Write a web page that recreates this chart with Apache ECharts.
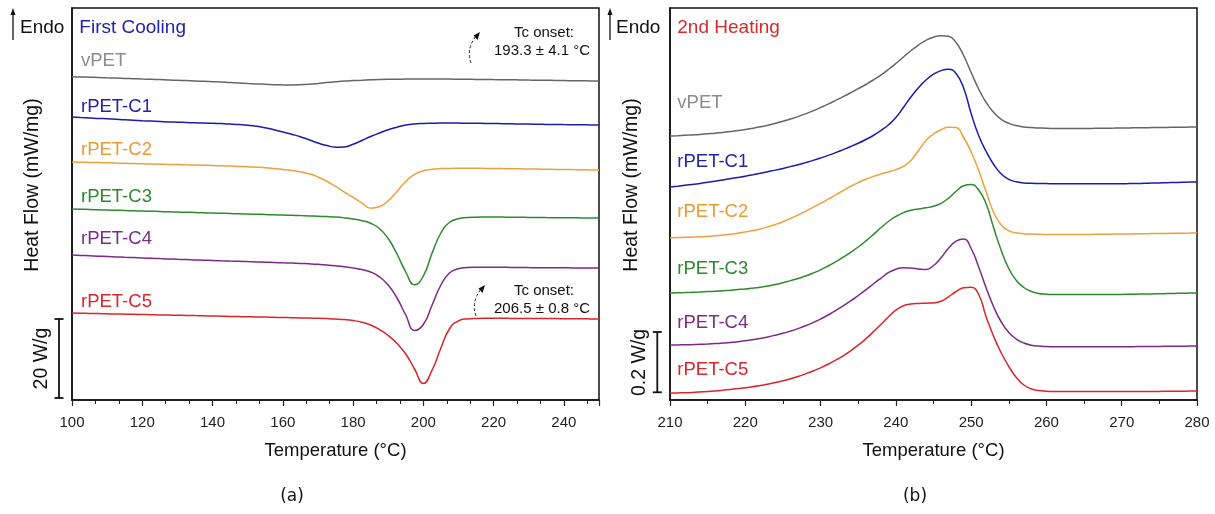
<!DOCTYPE html>
<html><head><meta charset="utf-8">
<script src="https://cdn.jsdelivr.net/npm/echarts@6/dist/echarts.min.js"></script>
<style>html,body{margin:0;padding:0;background:#fff}#c{width:1215px;height:514px}</style>
</head><body><div id="c"></div><script>
const FONT = '"Liberation Sans", Arial, sans-serif';
const coolingTickLabels = [100, 120, 140, 160, 180, 200, 220, 240];
const heatingTickLabels = [210, 220, 230, 240, 250, 260, 270, 280];
const sampleNames = ['vPET', 'rPET-C1', 'rPET-C2', 'rPET-C3', 'rPET-C4', 'rPET-C5'];
const lineColors = ['#666666', '#1c1ca8', '#eba23e', '#2d8a2d', '#7b2a88', '#d8262b'];
const labelColors = ['#8c8c8c', '#2323a8', '#e99a33', '#2d8a2d', '#7b2a88', '#d8262b'];

// ---- First cooling (panel a): temperature grid (°C) and stacked heat-flow offsets (W/g)
const coolT = [100, 102.5, 105, 107.5, 110, 112.5, 115, 117.5, 120, 122.5, 125, 127.5, 130, 132.5, 135, 137.5, 140, 142.5, 145, 147.5,
  150, 152.5, 155, 157.5, 160, 162.5, 165, 167.5, 170, 172.5, 175, 177.5, 180, 182.5, 185, 187.5, 190, 192.5, 195, 197.5,
  200, 202.5, 205, 207.5, 210, 212.5, 215, 217.5, 220, 222.5, 225, 227.5, 230, 232.5, 235, 237.5, 240, 242.5, 245, 247.5, 250];
const coolV_vPET = [80.83, 80.75, 80.70, 80.63, 80.55, 80.48, 80.40, 80.33, 80.25, 80.18, 80.10, 80.00, 79.93, 79.85, 79.75, 79.68, 79.58, 79.48, 79.35, 79.25,
  79.13, 79.03, 78.93, 78.83, 78.78, 78.75, 78.80, 78.93, 79.13, 79.35, 79.55, 79.73, 79.85, 79.95, 80.05, 80.13, 80.18, 80.20, 80.23, 80.25,
  80.25, 80.25, 80.23, 80.23, 80.20, 80.18, 80.15, 80.13, 80.10, 80.08, 80.05, 80.03, 79.98, 79.95, 79.93, 79.90, 79.85, 79.83, 79.80, 79.78, 79.75];
const coolV_C1 = [70.75, 70.63, 70.53, 70.40, 70.30, 70.18, 70.05, 69.95, 69.83, 69.73, 69.63, 69.53, 69.45, 69.38, 69.30, 69.25, 69.18, 69.10, 69.00, 68.85,
  68.68, 68.43, 68.05, 67.58, 67.00, 66.43, 65.83, 65.05, 64.25, 63.60, 63.20, 63.28, 63.93, 64.88, 65.88, 66.75, 67.55, 68.20, 68.73, 69.03,
  69.15, 69.20, 69.23, 69.23, 69.23, 69.20, 69.18, 69.15, 69.13, 69.08, 69.05, 69.00, 68.98, 68.93, 68.90, 68.88, 68.85, 68.83, 68.80, 68.78, 68.75];
const coolV_C2 = [59.50, 59.45, 59.40, 59.35, 59.30, 59.23, 59.18, 59.10, 59.05, 59.00, 58.95, 58.90, 58.85, 58.80, 58.75, 58.68, 58.63, 58.55, 58.48, 58.40,
  58.33, 58.20, 58.05, 57.85, 57.63, 57.38, 57.05, 56.55, 55.75, 54.68, 53.38, 52.00, 50.63, 49.30, 47.95, 48.30, 49.80, 52.13, 54.63, 56.38,
  57.30, 57.70, 57.85, 57.90, 57.93, 57.93, 57.93, 57.90, 57.88, 57.85, 57.83, 57.80, 57.75, 57.73, 57.70, 57.65, 57.63, 57.60, 57.58, 57.53, 57.50];
const coolV_C3 = [47.75, 47.68, 47.63, 47.55, 47.50, 47.43, 47.38, 47.30, 47.25, 47.18, 47.13, 47.05, 47.00, 46.93, 46.88, 46.80, 46.75, 46.68, 46.63, 46.55,
  46.50, 46.43, 46.38, 46.30, 46.25, 46.18, 46.10, 46.03, 45.95, 45.85, 45.73, 45.53, 45.25, 44.83, 44.18, 42.88, 40.38, 36.50, 32.00, 28.80,
  31.00, 36.75, 41.75, 44.43, 45.30, 45.60, 45.70, 45.73, 45.75, 45.73, 45.70, 45.68, 45.65, 45.63, 45.60, 45.58, 45.55, 45.55, 45.53, 45.50, 45.50];
const coolV_C4 = [36.25, 36.15, 36.05, 35.95, 35.88, 35.78, 35.68, 35.60, 35.50, 35.43, 35.35, 35.28, 35.18, 35.10, 35.03, 34.95, 34.88, 34.80, 34.73, 34.68,
  34.60, 34.53, 34.45, 34.38, 34.30, 34.23, 34.15, 34.05, 33.93, 33.78, 33.58, 33.33, 33.00, 32.60, 32.00, 30.80, 28.75, 25.50, 21.25, 17.38,
  18.88, 23.75, 28.75, 31.80, 32.83, 33.10, 33.18, 33.20, 33.20, 33.18, 33.15, 33.13, 33.10, 33.08, 33.08, 33.05, 33.05, 33.03, 33.03, 33.00, 33.00];
const coolV_C5 = [21.75, 21.70, 21.65, 21.60, 21.55, 21.50, 21.45, 21.43, 21.38, 21.33, 21.28, 21.23, 21.18, 21.15, 21.10, 21.05, 21.00, 20.95, 20.90, 20.85,
  20.80, 20.78, 20.73, 20.68, 20.63, 20.58, 20.53, 20.48, 20.43, 20.35, 20.25, 20.10, 19.85, 19.43, 18.75, 17.60, 16.13, 14.13, 11.50, 7.75,
  4.13, 7.50, 13.00, 17.88, 19.80, 20.28, 20.40, 20.43, 20.43, 20.43, 20.40, 20.40, 20.38, 20.38, 20.35, 20.35, 20.33, 20.30, 20.30, 20.28, 20.25];

// ---- Second heating (panel b): temperature grid (°C) and stacked heat-flow offsets (W/g)
const heatT = [210, 211, 212, 213, 214, 215, 216, 217, 218, 219, 220, 221, 222, 223, 224, 225, 226, 227, 228, 229,
  230, 231, 232, 233, 234, 235, 236, 237, 238, 239, 240, 241, 242, 243, 244, 245, 246, 247, 248, 249,
  250, 251, 252, 253, 254, 255, 256, 257, 258, 259, 260, 261, 262, 263, 264, 265, 266, 267, 268, 269,
  270, 271, 272, 273, 274, 275, 276, 277, 278, 279, 280];
const heatV_vPET = [0.880, 0.881, 0.8823, 0.8837, 0.8853, 0.8873, 0.8893, 0.8917, 0.8947, 0.898, 0.9017, 0.906, 0.9107, 0.916, 0.9223, 0.9293, 0.9367, 0.9447, 0.9537, 0.9637,
  0.9747, 0.9863, 0.9987, 1.0113, 1.0243, 1.0377, 1.0517, 1.0667, 1.0833, 1.1017, 1.1217, 1.1433, 1.1643, 1.1833, 1.199, 1.2093, 1.2143, 1.2123, 1.1917, 1.1483,
  1.0917, 1.0367, 0.9917, 0.9583, 0.9357, 0.9223, 0.9147, 0.9103, 0.908, 0.9067, 0.9057, 0.9053, 0.905, 0.905, 0.905, 0.905, 0.9053, 0.9057, 0.906, 0.9063,
  0.9067, 0.907, 0.9073, 0.9077, 0.908, 0.9083, 0.9087, 0.909, 0.9093, 0.9097, 0.910];
const heatV_C1 = [0.710, 0.7127, 0.7157, 0.7187, 0.722, 0.7257, 0.7293, 0.7333, 0.7373, 0.7417, 0.746, 0.7507, 0.7557, 0.761, 0.7663, 0.772, 0.778, 0.7843, 0.7913, 0.7987,
  0.8067, 0.8153, 0.8247, 0.8347, 0.845, 0.856, 0.8683, 0.8817, 0.8983, 0.9167, 0.9417, 0.975, 1.010, 1.0407, 1.0667, 1.086, 1.098, 1.1027, 1.0883, 1.040,
  0.955, 0.8817, 0.8283, 0.785, 0.7533, 0.7357, 0.7273, 0.7237, 0.7223, 0.7217, 0.7213, 0.721, 0.721, 0.721, 0.721, 0.721, 0.721, 0.721, 0.721, 0.721,
  0.721, 0.7213, 0.7217, 0.7223, 0.723, 0.7237, 0.7243, 0.725, 0.7257, 0.7263, 0.7267];
const heatV_C2 = [0.541, 0.5417, 0.5423, 0.5433, 0.5443, 0.5457, 0.5473, 0.5497, 0.5527, 0.556, 0.560, 0.5647, 0.5703, 0.577, 0.585, 0.5943, 0.605, 0.6167, 0.629, 0.642,
  0.6553, 0.6693, 0.6837, 0.698, 0.712, 0.7247, 0.7357, 0.745, 0.753, 0.7603, 0.768, 0.779, 0.7983, 0.8317, 0.865, 0.8867, 0.9007, 0.9093, 0.908, 0.875,
  0.8267, 0.765, 0.6933, 0.625, 0.5833, 0.564, 0.5573, 0.5543, 0.553, 0.5523, 0.552, 0.5517, 0.5517, 0.5517, 0.5517, 0.5517, 0.552, 0.5523, 0.5527, 0.553,
  0.5533, 0.5537, 0.554, 0.5543, 0.5547, 0.555, 0.5553, 0.5557, 0.556, 0.5563, 0.5567];
const heatV_C3 = [0.3567, 0.3573, 0.358, 0.359, 0.360, 0.3613, 0.3627, 0.3643, 0.366, 0.368, 0.370, 0.3727, 0.376, 0.380, 0.385, 0.391, 0.398, 0.405, 0.4133, 0.423,
  0.434, 0.4467, 0.4607, 0.476, 0.4923, 0.510, 0.5297, 0.5513, 0.574, 0.595, 0.6117, 0.6247, 0.6323, 0.637, 0.6407, 0.646, 0.6557, 0.6727, 0.696, 0.714,
  0.718, 0.700, 0.6533, 0.5733, 0.4983, 0.4383, 0.3983, 0.375, 0.3617, 0.355, 0.3527, 0.3517, 0.3513, 0.3513, 0.3513, 0.3513, 0.3513, 0.3513, 0.3513, 0.3517,
  0.352, 0.3523, 0.3527, 0.3533, 0.3537, 0.354, 0.3547, 0.3553, 0.3557, 0.3563, 0.3567];
const heatV_C4 = [0.1833, 0.1837, 0.184, 0.1847, 0.1857, 0.1867, 0.188, 0.1897, 0.1917, 0.1943, 0.1973, 0.201, 0.2053, 0.2103, 0.216, 0.2223, 0.2297, 0.238, 0.2473, 0.258,
  0.270, 0.2833, 0.2977, 0.3137, 0.3303, 0.3483, 0.367, 0.3867, 0.4057, 0.4243, 0.436, 0.4407, 0.440, 0.437, 0.4347, 0.4483, 0.4743, 0.5057, 0.5293, 0.5367,
  0.505, 0.4433, 0.3733, 0.310, 0.260, 0.225, 0.2033, 0.190, 0.1827, 0.1797, 0.1783, 0.1777, 0.1773, 0.1773, 0.1773, 0.1773, 0.1773, 0.1773, 0.1773, 0.1773,
  0.1773, 0.1777, 0.178, 0.1783, 0.1787, 0.1787, 0.179, 0.1793, 0.1793, 0.1797, 0.180];
const heatV_C5 = [0.0233, 0.0237, 0.0243, 0.0253, 0.0267, 0.0283, 0.0303, 0.0327, 0.0353, 0.038, 0.0407, 0.044, 0.048, 0.0527, 0.058, 0.064, 0.0707, 0.0783, 0.087, 0.0967,
  0.1073, 0.1193, 0.1327, 0.1473, 0.164, 0.1827, 0.2037, 0.227, 0.2517, 0.2767, 0.2993, 0.3143, 0.3203, 0.322, 0.3227, 0.3237, 0.329, 0.344, 0.3617, 0.374,
  0.3757, 0.3517, 0.2767, 0.2117, 0.1567, 0.1117, 0.075, 0.050, 0.0367, 0.0313, 0.0293, 0.0283, 0.028, 0.028, 0.028, 0.028, 0.028, 0.028, 0.028, 0.028,
  0.028, 0.028, 0.028, 0.0283, 0.0287, 0.0287, 0.029, 0.0293, 0.0293, 0.0297, 0.030];

const coolSeries = [coolV_vPET, coolV_C1, coolV_C2, coolV_C3, coolV_C4, coolV_C5];
const heatSeries = [heatV_vPET, heatV_C1, heatV_C2, heatV_C3, heatV_C4, heatV_C5];

const zip = (t, v) => t.map((x, i) => [x, v[i]]);
const series = [];
coolSeries.forEach((v, i) => series.push({
  name: sampleNames[i], type: 'line', xAxisIndex: 0, yAxisIndex: 0, data: zip(coolT, v),
  smooth: 0.5, showSymbol: false, lineStyle: { color: lineColors[i], width: 1.5 }, silent: true
}));
heatSeries.forEach((v, i) => series.push({
  name: sampleNames[i], type: 'line', xAxisIndex: 1, yAxisIndex: 1, data: zip(heatT, v),
  smooth: 0.5, showSymbol: false, lineStyle: { color: lineColors[i], width: 1.5 }, silent: true
}));

function xAxisDef(gridIndex, min, max, interval, minorSplit, labels) {
  return {
    type: 'value', gridIndex, min, max, interval,
    axisLine: { show: true, onZero: false, lineStyle: { color: '#111', width: 1.5 } },
    axisTick: { show: true, inside: false, length: 6, lineStyle: { color: '#222', width: 1.2 } },
    minorTick: { show: true, splitNumber: minorSplit, length: 4, lineStyle: { color: '#222', width: 1 } },
    splitLine: { show: false },
    axisLabel: { margin: 15, fontFamily: FONT, fontSize: 15, color: '#222', showMaxLabel: labels.includes(max),
      formatter: v => labels.includes(v) ? String(v) : '' },
    name: 'Temperature (°C)', nameLocation: 'middle', nameGap: 41,
    nameTextStyle: { fontFamily: FONT, fontSize: 18.5, color: '#111' }
  };
}
function yAxisDef(gridIndex, max) {
  return {
    type: 'value', gridIndex, min: 0, max,
    axisLine: { show: true, lineStyle: { color: '#111', width: 1.5 } },
    axisTick: { show: false }, axisLabel: { show: false }, splitLine: { show: false }
  };
}

const txt = (x, y, s, color, size, extra) => Object.assign({
  type: 'text', x, y, silent: true,
  style: Object.assign({ text: s, fill: color, font: size + 'px ' + FONT, align: 'left', verticalAlign: 'middle' }, extra || {})
});

const graphic = [];
// Endo arrows and panel titles
[[13, 20, 79.3, 'First Cooling', '#2323a8'], [610, 616, 677.3, '2nd Heating', '#d42a2a']].forEach(a => {
  graphic.push({ type: 'line', silent: true, shape: { x1: a[0], y1: 40, x2: a[0], y2: 13 }, style: { stroke: '#111', lineWidth: 1.3 } });
  graphic.push({ type: 'polygon', silent: true, shape: { points: [[a[0] - 2.5, 15], [a[0] + 2.5, 15], [a[0], 8]] }, style: { fill: '#111' } });
  graphic.push(txt(a[1], 28, 'Endo', '#111', 19));
  graphic.push(txt(a[2], 28, a[3], a[4], 19));
});
// sample labels
const coolLabelY = [61, 106.5, 150, 196.5, 239, 301.5];
const heatLabelY = [103.3, 161.7, 211.7, 269, 323, 369.7];
sampleNames.forEach((n, i) => {
  graphic.push(txt(81, coolLabelY[i], n, labelColors[i], 18.5));
  graphic.push(txt(677.3, heatLabelY[i], n, labelColors[i], 18.5));
});
// y-axis names
[[33, 185], [632, 185]].forEach(p => graphic.push({
  type: 'text', x: p[0], y: p[1], rotation: Math.PI / 2, silent: true,
  style: { text: 'Heat Flow (mW/mg)', fill: '#111', font: '19.5px ' + FONT, align: 'center', verticalAlign: 'middle' }
}));
// scale bars
[[59, 319, 398, 41.7, 358.5, '20 W/g'], [657.3, 332, 392.3, 640, 362.5, '0.2 W/g']].forEach(b => {
  graphic.push({ type: 'line', silent: true, shape: { x1: b[0], y1: b[1], x2: b[0], y2: b[2] }, style: { stroke: '#111', lineWidth: 1.8 } });
  graphic.push({ type: 'line', silent: true, shape: { x1: b[0] - 4.5, y1: b[1], x2: b[0] + 4.5, y2: b[1] }, style: { stroke: '#111', lineWidth: 1.8 } });
  graphic.push({ type: 'line', silent: true, shape: { x1: b[0] - 4.5, y1: b[2], x2: b[0] + 4.5, y2: b[2] }, style: { stroke: '#111', lineWidth: 1.8 } });
  graphic.push({ type: 'text', x: b[3], y: b[4], rotation: Math.PI / 2, silent: true,
    style: { text: b[5], fill: '#111', font: '19.5px ' + FONT, align: 'center', verticalAlign: 'middle' } });
});
// Tc onset annotations
[[33, 51, 63, 'Tc onset:', '193.3 ± 4.1 °C', 471], [291, 308.7, 316, 'Tc onset:', '206.5 ± 0.8 °C', 476]].forEach(a => {
  graphic.push(txt(544, a[0], a[3], '#111', 15, { align: 'center' }));
  graphic.push(txt(542, a[1], a[4], '#111', 15, { align: 'center' }));
  const x0 = a[5], y0 = a[2];
  graphic.push({ type: 'bezierCurve', silent: true,
    shape: { x1: x0, y1: y0, cpx1: x0 - 5, cpy1: y0 - 14, x2: x0 + 5, y2: y0 - 27 },
    style: { stroke: '#222', lineWidth: 1, lineDash: [3, 2], fill: null } });
  graphic.push({ type: 'polygon', silent: true,
    shape: { points: [[x0 + 9, y0 - 31], [x0 + 2.5, y0 - 27.5], [x0 + 6.5, y0 - 23]] }, style: { fill: '#111' } });
});
// panel letters
graphic.push({ type: 'text', x: 292, y: 497, silent: true, style: { text: '(a)', fill: '#111', font: '17px "DejaVu Sans", sans-serif', align: 'center', verticalAlign: 'middle' } });
graphic.push({ type: 'text', x: 915, y: 497, silent: true, style: { text: '(b)', fill: '#111', font: '17px "DejaVu Sans", sans-serif', align: 'center', verticalAlign: 'middle' } });

const chart = echarts.init(document.getElementById('c'), null, { renderer: 'canvas' });
chart.setOption({
  animation: false,
  backgroundColor: '#fff',
  grid: [
    { left: 72, right: 616, top: 8, bottom: 114, show: true, borderColor: '#111', borderWidth: 1.5, containLabel: false },
    { left: 670, right: 18, top: 8, bottom: 114, show: true, borderColor: '#111', borderWidth: 1.5, containLabel: false }
  ],
  xAxis: [xAxisDef(0, 100, 250, 20, 3, coolingTickLabels), xAxisDef(1, 210, 280, 10, 2, heatingTickLabels)],
  yAxis: [yAxisDef(0, 98), yAxisDef(1, 1.3067)],
  series,
  graphic
});
</script></body></html>
